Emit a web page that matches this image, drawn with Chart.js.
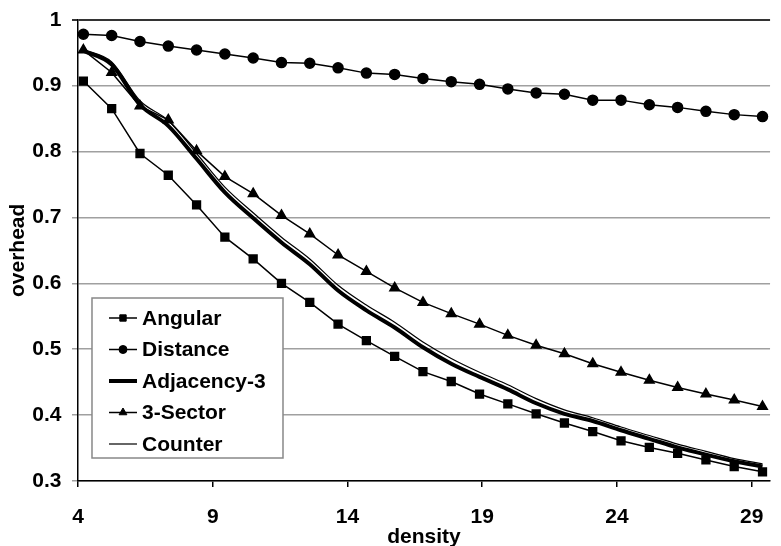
<!DOCTYPE html>
<html>
<head>
<meta charset="utf-8">
<script src="https://cdn.jsdelivr.net/npm/chart.js@4"></script>
<style>
  html, body { margin: 0; padding: 0; background: #fff; }
  #wrap { width: 781px; height: 546px; position: relative; }
</style>
</head>
<body>
<div id="wrap"><canvas id="overheadChart"></canvas></div>
<script>
// density values (x) and overhead per protocol
var density = [4.2, 5.25, 6.3, 7.35, 8.4, 9.45, 10.5, 11.55, 12.6, 13.65, 14.7, 15.75, 16.8,
  17.85, 18.9, 19.95, 21.0, 22.05, 23.1, 24.15, 25.2, 26.25, 27.3, 28.35, 29.4];

var angular = [0.907, 0.865, 0.797, 0.764, 0.719, 0.670, 0.637, 0.600, 0.571, 0.538, 0.513, 0.489,
  0.466, 0.451, 0.432, 0.417, 0.402, 0.388, 0.375, 0.361, 0.351, 0.342, 0.332, 0.322, 0.314];
var distance = [0.978, 0.976, 0.967, 0.960, 0.954, 0.948, 0.942, 0.935, 0.934, 0.927, 0.919, 0.917,
  0.911, 0.906, 0.902, 0.895, 0.889, 0.887, 0.878, 0.878, 0.871, 0.867, 0.861, 0.856, 0.853];
var adjacency3 = [0.953, 0.932, 0.871, 0.839, 0.789, 0.738, 0.699, 0.662, 0.629, 0.589, 0.559, 0.533,
  0.503, 0.478, 0.458, 0.439, 0.418, 0.402, 0.391, 0.377, 0.364, 0.351, 0.340, 0.330, 0.322];
var sector3 = [0.954, 0.920, 0.869, 0.848, 0.801, 0.762, 0.736, 0.703, 0.675, 0.643, 0.618, 0.593,
  0.571, 0.554, 0.538, 0.521, 0.506, 0.493, 0.478, 0.465, 0.453, 0.442, 0.432, 0.423, 0.413];
var counter = [0.955, 0.936, 0.877, 0.847, 0.797, 0.746, 0.707, 0.670, 0.637, 0.597, 0.567, 0.541,
  0.511, 0.486, 0.465, 0.446, 0.425, 0.408, 0.396, 0.382, 0.369, 0.356, 0.345, 0.334, 0.326];

var seriesNames = ["Angular", "Distance", "Adjacency-3", "3-Sector", "Counter"];
var xTicks = [4, 9, 14, 19, 24, 29];

function pts(ys) {
  return ys.map(function (y, i) { return { x: density[i], y: y }; });
}

var FONT = "'Liberation Sans', Arial, sans-serif";

// legend drawn inside the plot, bottom-left, like the original figure
var innerLegend = {
  id: "innerLegend",
  afterDraw: function (chart) {
    var ctx = chart.ctx;
    var area = chart.chartArea;
    var bx = area.left + 14, by = 298, bw = 191, bh = 160;
    ctx.save();
    ctx.fillStyle = "#fff";
    ctx.fillRect(bx, by, bw, bh);
    ctx.strokeStyle = "#888";
    ctx.lineWidth = 1.5;
    ctx.strokeRect(bx, by, bw, bh);
    chart.data.datasets.forEach(function (ds, i) {
      var y = by + 20 + i * 31.5;
      ctx.strokeStyle = ds.borderColor;
      ctx.lineWidth = ds.borderWidth;
      ctx.beginPath();
      ctx.moveTo(bx + 17, y);
      ctx.lineTo(bx + 45, y);
      ctx.stroke();
      if (ds.pointRadius > 0) {
        ctx.fillStyle = "#000";
        ctx.lineWidth = 1;
        Chart.helpers.drawPoint(ctx, { pointStyle: ds.pointStyle, radius: ds.pointRadius - 1, rotation: 0, borderWidth: 1 }, bx + 31, y);
      }
      ctx.fillStyle = "#000";
      ctx.font = "bold 21px " + FONT;
      ctx.textBaseline = "middle";
      ctx.textAlign = "left";
      ctx.fillText(ds.label, bx + 50, y + 1);
    });
    ctx.restore();
  }
};

var ctx = document.getElementById("overheadChart");
new Chart(ctx, {
  type: "line",
  data: {
    datasets: [
      { label: seriesNames[0], data: pts(angular), borderColor: "#000", backgroundColor: "#000",
        borderWidth: 1.5, pointStyle: "rect", pointRadius: 5.5, tension: 0 },
      { label: seriesNames[1], data: pts(distance), borderColor: "#000", backgroundColor: "#000",
        borderWidth: 1.5, pointStyle: "circle", pointRadius: 5, tension: 0 },
      { label: seriesNames[2], data: pts(adjacency3), borderColor: "#000", backgroundColor: "#000",
        borderWidth: 4, pointRadius: 0, cubicInterpolationMode: "monotone" },
      { label: seriesNames[3], data: pts(sector3), borderColor: "#000", backgroundColor: "#000",
        borderWidth: 1.5, pointStyle: "triangle", pointRadius: 5.5, tension: 0 },
      { label: seriesNames[4], data: pts(counter), borderColor: "#000", backgroundColor: "#000",
        borderWidth: 1.2, pointRadius: 0, cubicInterpolationMode: "monotone" }
    ]
  },
  options: {
    responsive: true,
    maintainAspectRatio: false,
    animation: false,
    layout: { padding: { top: 3, right: 0, bottom: 0, left: 0 } },
    plugins: {
      legend: { display: false },
      tooltip: { enabled: false }
    },
    scales: {
      x: {
        type: "linear",
        min: 4,
        max: 29.68,
        afterBuildTicks: function (scale) {
          scale.ticks = xTicks.map(function (v) { return { value: v }; });
        },
        border: { color: "#000", width: 1.5 },
        grid: { drawOnChartArea: false, drawTicks: true, tickLength: 6, color: "#000", lineWidth: 1.5 },
        ticks: { padding: 17.4, color: "#000",
          font: { family: FONT, size: 21, weight: "bold" } },
        title: { display: true, text: "density", color: "#000", padding: { top: -20.5, bottom: -1.5 },
          font: { family: FONT, size: 21, weight: "bold", lineHeight: 1 } }
      },
      y: {
        min: 0.3,
        max: 1,
        border: { color: "#000", width: 1.5 },
        grid: {
          tickLength: 6,
          color: function (c) { return c.tick && c.tick.value >= 0.999 ? "#333" : "#a0a0a0"; },
          lineWidth: function (c) { return c.tick && c.tick.value >= 0.999 ? 2 : 1.5; }
        },
        ticks: { stepSize: 0.1, padding: 10.5, color: "#000",
          font: { family: FONT, size: 21, weight: "bold", lineHeight: 0.88 },
          callback: function (v) { return String(Math.round(v * 10) / 10); } },
        title: { display: true, text: "overhead", color: "#000", padding: { top: 6, bottom: -9.4 },
          font: { family: FONT, size: 21, weight: "bold" } }
      }
    }
  },
  plugins: [innerLegend]
});
</script>
</body>
</html>
